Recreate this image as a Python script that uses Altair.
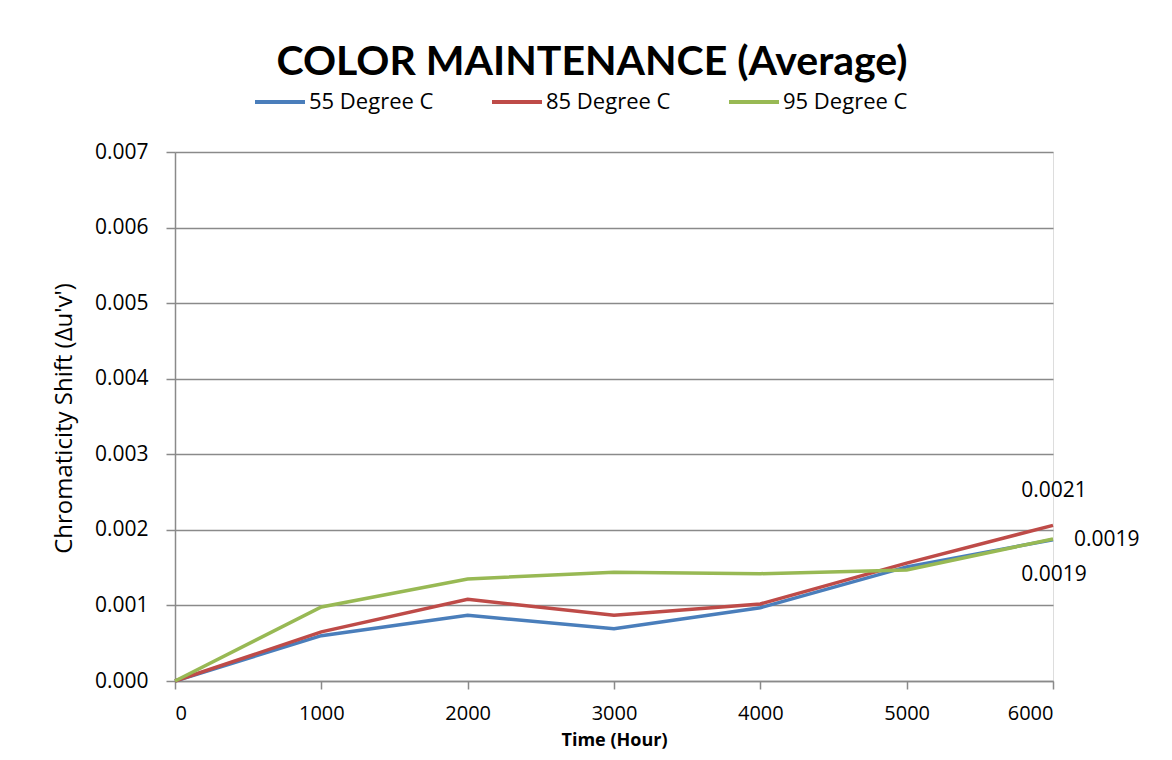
import altair as alt
import pandas as pd

hours = [0, 1000, 2000, 3000, 4000, 5000, 6000]
s55 = [0.0, 0.00060, 0.00087, 0.00069, 0.00097, 0.00151, 0.00187]
s85 = [0.0, 0.00065, 0.00108, 0.00087, 0.00102, 0.00156, 0.00206]
s95 = [0.0, 0.00098, 0.00135, 0.00144, 0.00142, 0.00147, 0.00188]
series = ["55 Degree C", "85 Degree C", "95 Degree C"]
colors = ["#4A7EBB", "#BE4B48", "#98B954"]
y_ticks = [0.000, 0.001, 0.002, 0.003, 0.004, 0.005, 0.006, 0.007]

rows = []
for name, vals in zip(series, [s55, s85, s95]):
    for h, v in zip(hours, vals):
        rows.append({"hour": h, "value": v, "series": name})
df = pd.DataFrame(rows)

FONT = "Open Sans"
GRID = "#8A8A8A"

x = alt.X("hour:Q", scale=alt.Scale(domain=[0, 6000], nice=False),
          axis=alt.Axis(values=hours, format="d", title="Time (Hour)", grid=False,
                        labelFont=FONT, labelFontSize=20, labelColor="#000000",
                        labelPadding=14, tickSize=8, tickColor=GRID, tickWidth=1.5,
                        domainColor=GRID, domainWidth=1.5,
                        titleFont=FONT, titleFontSize=18, titleFontWeight="bold",
                        titleColor="#000000", titleY=59, titleBaseline="middle"))
y = alt.Y("value:Q", scale=alt.Scale(domain=[0, 0.007], nice=False),
          axis=alt.Axis(values=y_ticks, format=".3f", title="Chromaticity Shift  (Δu'v')",
                        grid=True, gridColor=GRID, gridWidth=1.5,
                        labelFont=FONT, labelFontSize=21, labelColor="#000000",
                        labelPadding=18, tickSize=9, tickColor=GRID, tickWidth=1.5,
                        domainColor=GRID, domainWidth=1.5,
                        titleFont=FONT, titleFontSize=24, titleFontWeight="normal",
                        titleColor="#000000", titleX=-111, titleY=266,
                        titleAngle=270, titleAlign="center", titleBaseline="middle"))

color = alt.Color("series:N", scale=alt.Scale(domain=series, range=colors),
                  legend=alt.Legend(title=None, orient="none", direction="horizontal",
                                    legendX=78, legendY=-77,
                                    symbolType="stroke", symbolSize=2500,
                                    symbolStrokeWidth=4, labelOffset=2,
                                    columnPadding=50,
                                    labelFont=FONT, labelFontSize=22,
                                    labelColor="#000000"))

lines = alt.Chart(df).mark_line(strokeWidth=3.5).encode(x=x, y=y, color=color)

last = df[df["hour"] == 6000]

def lab(name, **kw):
    return alt.Chart(last[last["series"] == name]).mark_text(
        font=FONT, fontSize=21, color="#000000", baseline="middle", **kw
    ).encode(x="hour:Q", y="value:Q", text=alt.Text("value:Q", format=".4f"))

labels = (lab("85 Degree C", align="center", dx=1, dy=-34)
          + lab("95 Degree C", align="left", dx=21, dy=1)
          + lab("55 Degree C", align="center", dx=1, dy=35))

chart = alt.layer(lines, labels).properties(
    width=878, height=529,
    autosize=alt.AutoSizeParams(type="none"),
    padding={"left": 167, "top": 144, "right": 111, "bottom": 70},
    title=alt.TitleParams("COLOR MAINTENANCE  (Average)",
                          font="Lato", fontSize=41,
                          fontWeight="bold", color="#000000", anchor="middle",
                          frame="group", baseline="alphabetic", offset=2, dx=-22, dy=43),
).configure_view(stroke=None).configure(background="#FFFFFF")

chart.save("out.html", embed_options={"renderer": "svg", "actions": False})
